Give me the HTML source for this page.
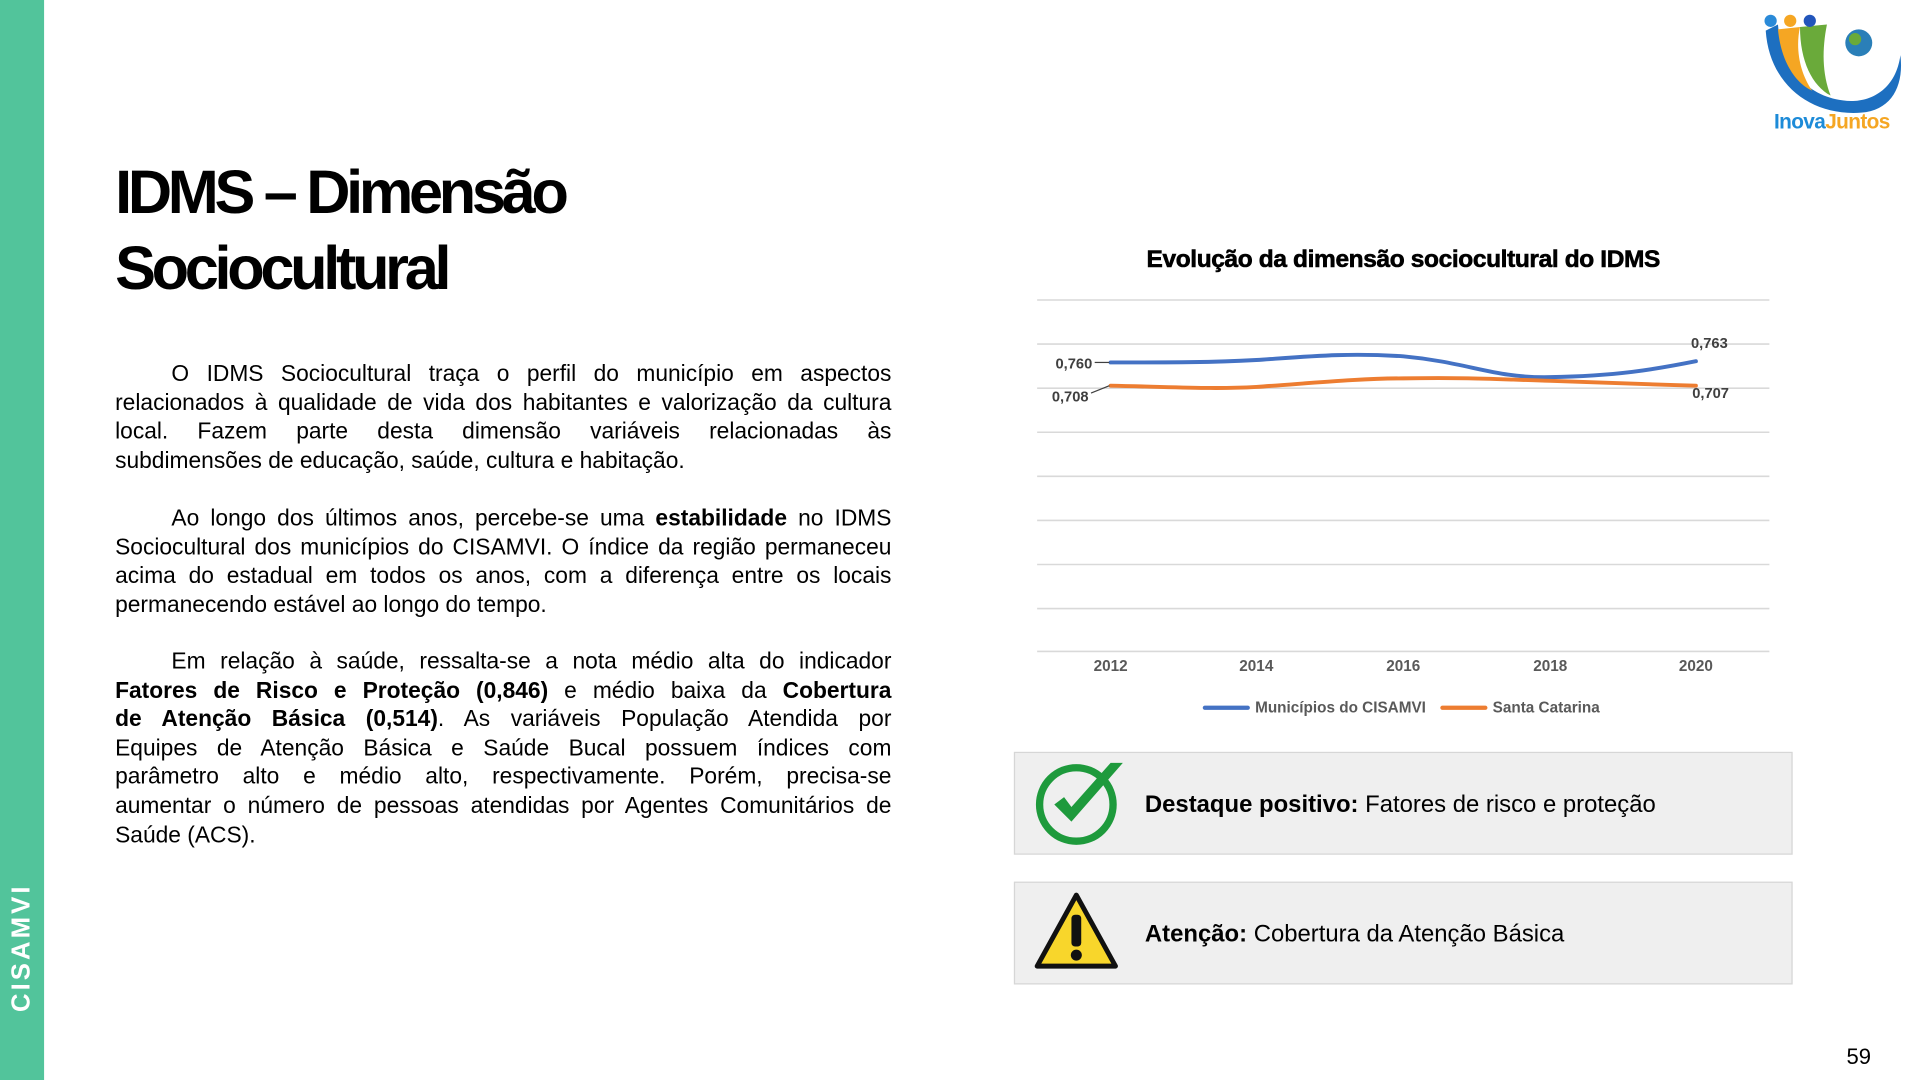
<!DOCTYPE html>
<html><head><meta charset="utf-8"><style>
html,body{margin:0;padding:0;background:#fff;}
body{width:1920px;height:1080px;overflow:hidden;position:relative;}
#s{position:absolute;left:0;top:0;width:1568px;height:882px;transform:scale(1.22449);transform-origin:0 0;font-family:"Liberation Sans",sans-serif;color:#000;}
.abs{position:absolute;}
.side{left:0;top:0;width:36px;height:882px;background:#52c49b;}
.vt{left:18px;top:774px;transform:translate(-50%,-50%) rotate(-90deg);color:#fff;font-weight:bold;font-size:21px;letter-spacing:2.5px;white-space:nowrap;}
h1{position:absolute;left:94px;top:126px;margin:0;font-size:50px;line-height:62px;font-weight:bold;letter-spacing:-3.5px;}
.p{position:absolute;left:94px;width:634px;font-size:18.6px;line-height:23.6px;}
.p span{display:block;white-space:nowrap;text-align:justify;text-align-last:justify;}
.p span.l{text-align-last:left;}
.p span.i{padding-left:46px;}
.box{position:absolute;left:828px;width:634px;height:82px;background:#efefef;border:1.5px solid #d6d6d6;}
.bt{position:absolute;left:106px;top:31px;font-size:19.5px;white-space:nowrap;}
</style></head><body><div id="s">
<div class="abs side"></div>
<div class="abs vt">CISAMVI</div>
<h1>IDMS – Dimensão<br>Sociocultural</h1>
<div class="p" style="top:293px"><span class="i">O IDMS Sociocultural traça o perfil do município em aspectos</span><span>relacionados à qualidade de vida dos habitantes e valorização da cultura</span><span>local. Fazem parte desta dimensão variáveis relacionadas às</span><span class="l">subdimensões de educação, saúde, cultura e habitação.</span></div>
<div class="p" style="top:411px"><span class="i">Ao longo dos últimos anos, percebe-se uma <b>estabilidade</b> no IDMS</span><span>Sociocultural dos municípios do CISAMVI. O índice da região permaneceu</span><span>acima do estadual em todos os anos, com a diferença entre os locais</span><span class="l">permanecendo estável ao longo do tempo.</span></div>
<div class="p" style="top:528px"><span class="i">Em relação à saúde, ressalta-se a nota médio alta do indicador</span><span><b>Fatores de Risco e Proteção (0,846)</b> e médio baixa da <b>Cobertura</b></span><span><b>de Atenção Básica (0,514)</b>. As variáveis População Atendida por</span><span>Equipes de Atenção Básica e Saúde Bucal possuem índices com</span><span>parâmetro alto e médio alto, respectivamente. Porém, precisa-se</span><span>aumentar o número de pessoas atendidas por Agentes Comunitários de</span><span class="l">Saúde (ACS).</span></div>

<svg class="abs" style="left:0;top:0" width="1568" height="882">
<text x="1146" y="218" text-anchor="middle" font-family="Liberation Sans" font-weight="bold" font-size="20" letter-spacing="-0.3" stroke="#000" stroke-width="0.5">Evolução da dimensão sociocultural do IDMS</text>
<g stroke="#d9d9d9" stroke-width="1.3">
<line x1="847" x2="1445" y1="245" y2="245"/><line x1="847" x2="1445" y1="281" y2="281"/><line x1="847" x2="1445" y1="317" y2="317"/><line x1="847" x2="1445" y1="353" y2="353"/><line x1="847" x2="1445" y1="389" y2="389"/><line x1="847" x2="1445" y1="425" y2="425"/><line x1="847" x2="1445" y1="461" y2="461"/><line x1="847" x2="1445" y1="497" y2="497"/><line x1="847" x2="1445" y1="532" y2="532"/>
</g>
<g font-family="Liberation Sans" font-weight="bold" font-size="12.5" fill="#595959" text-anchor="middle">
<text x="907" y="548">2012</text><text x="1026" y="548">2014</text><text x="1146" y="548">2016</text><text x="1266" y="548">2018</text><text x="1385" y="548">2020</text>
</g>
<path d="M907,296 C960,296 990,296 1026,294 C1070,291 1100,288 1146,291 C1200,296 1220,309 1266,308 C1320,307 1350,302 1385,295" fill="none" stroke="#4472c4" stroke-width="3.2" stroke-linecap="round"/>
<path d="M907,315 C960,316 990,318 1026,316 C1070,313 1110,309 1146,309 C1200,308 1230,310 1266,311 C1320,313 1350,314 1385,315" fill="none" stroke="#ed7d31" stroke-width="3.2" stroke-linecap="round"/>
<line x1="894" y1="296" x2="906" y2="296" stroke="#404040" stroke-width="1"/>
<line x1="891" y1="321" x2="906" y2="315" stroke="#404040" stroke-width="1"/>
<g font-family="Liberation Sans" font-weight="bold" font-size="12" fill="#404040" text-anchor="middle">
<text x="877" y="301">0,760</text><text x="874" y="328">0,708</text><text x="1396" y="284">0,763</text><text x="1397" y="325">0,707</text>
</g>
<line x1="984" y1="578" x2="1019" y2="578" stroke="#4472c4" stroke-width="3.5" stroke-linecap="round"/>
<line x1="1178" y1="578" x2="1213" y2="578" stroke="#ed7d31" stroke-width="3.5" stroke-linecap="round"/>
<g font-family="Liberation Sans" font-weight="bold" font-size="12.5" fill="#595959">
<text x="1025" y="582">Municípios do CISAMVI</text><text x="1219" y="582">Santa Catarina</text>
</g>
<!-- logo -->
<path d="M1442,25 C1445,70 1480,95 1520,92 C1545,90 1555,70 1552,45 C1548,75 1525,85 1505,82 C1475,78 1455,55 1452,20 Z" fill="#1d6fc0"/>
<path d="M1452,24 C1455,55 1470,70 1480,74 C1470,60 1466,40 1470,22 Z" fill="#f5a623"/>
<path d="M1470,22 C1470,50 1480,70 1495,78 C1488,60 1488,40 1492,20 Z" fill="#6aaa3a"/>
<circle cx="1446" cy="17" r="5" fill="#2a8ad8"/><circle cx="1462" cy="17" r="5" fill="#f5a623"/><circle cx="1478" cy="17" r="5" fill="#2255bb"/>
<circle cx="1518" cy="35" r="11" fill="#2a7fb8"/><circle cx="1515" cy="32" r="5" fill="#6aaa3a"/>
<text x="1496" y="105" text-anchor="middle" font-family="Liberation Sans" font-weight="bold" font-size="17" letter-spacing="-0.5"><tspan fill="#1d8bd8">Inova</tspan><tspan fill="#f5a623">Juntos</tspan></text>
<text x="1528" y="869" text-anchor="end" font-family="Liberation Sans" font-size="18">59</text>
</svg>

<div class="box" style="top:614px">
<svg class="abs" style="left:14px;top:4px" width="80" height="74">
<circle cx="36" cy="38" r="30" fill="none" stroke="#1e9a3c" stroke-width="6"/>
<path d="M18,38 L32,52 L74,4 L64,4 L32,40 L26,32 Z" fill="#1e9a3c"/>
</svg>
<div class="bt"><b>Destaque positivo:</b> Fatores de risco e proteção</div>
</div>
<div class="box" style="top:720px">
<svg class="abs" style="left:14px;top:6px" width="72" height="66">
<path d="M36,4 L68,62 L4,62 Z" fill="#f8d62b" stroke="#111" stroke-width="4" stroke-linejoin="round"/>
<rect x="32" y="20" width="8" height="26" rx="3" fill="#111"/><circle cx="36" cy="53" r="4.5" fill="#111"/>
</svg>
<div class="bt"><b>Atenção:</b> Cobertura da Atenção Básica</div>
</div>
</div></body></html>
